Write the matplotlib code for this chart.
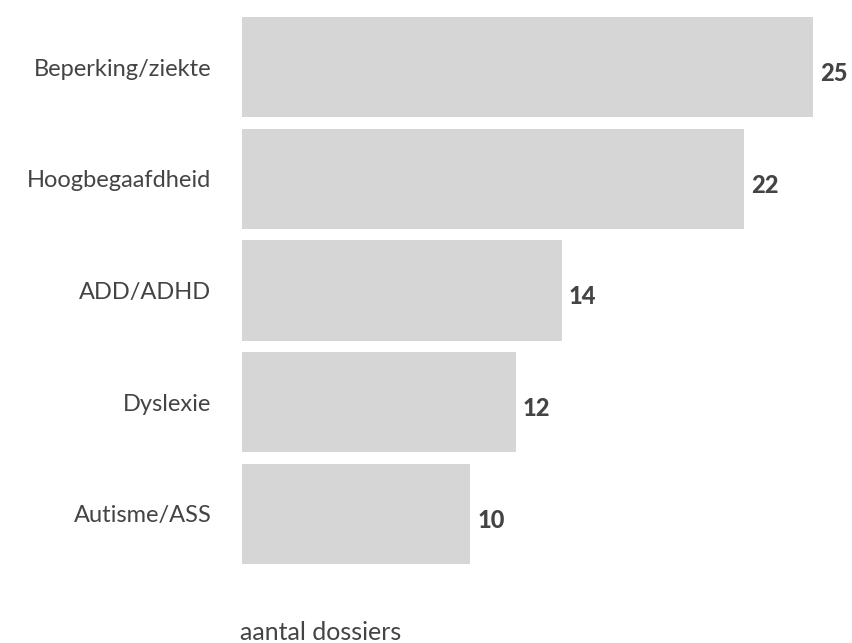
import matplotlib.pyplot as plt

categories = ['Beperking/ziekte', 'Hoogbegaafdheid', 'ADD/ADHD', 'Dyslexie', 'Autisme/ASS']
values = [25, 22, 14, 12, 10]
xlabel = 'aantal dossiers'

plt.rcParams['font.family'] = ['Lato', 'DejaVu Sans']
text_color = '#444444'
bar_color = '#d6d6d6'

fig = plt.figure(figsize=(8.53, 6.43), dpi=100)
ax = fig.add_axes([242 / 853, 79 / 643, 571 / 853, 547 / 643])

pos = list(range(len(categories)))
ax.barh(pos, values, height=0.9, color=bar_color)
ax.set_xlim(0, 25)
ax.set_ylim(4.45, -0.45)

for y, v in zip(pos, values):
    ax.annotate(str(v), (v, y), xytext=(5, -4.5), textcoords='offset points',
                ha='left', va='center', fontsize=17, fontweight='black', color=text_color)

ax.set_yticks(pos)
ax.set_yticklabels(categories, fontsize=17, color=text_color)
ax.tick_params(axis='y', length=0, pad=22)
ax.set_xticks([])
for s in ax.spines.values():
    s.set_visible(False)

fig.text(240 / 853, 1 - 633 / 643, xlabel, ha='left', va='center', fontsize=18, color=text_color)

fig.savefig('out.png', dpi=100)
